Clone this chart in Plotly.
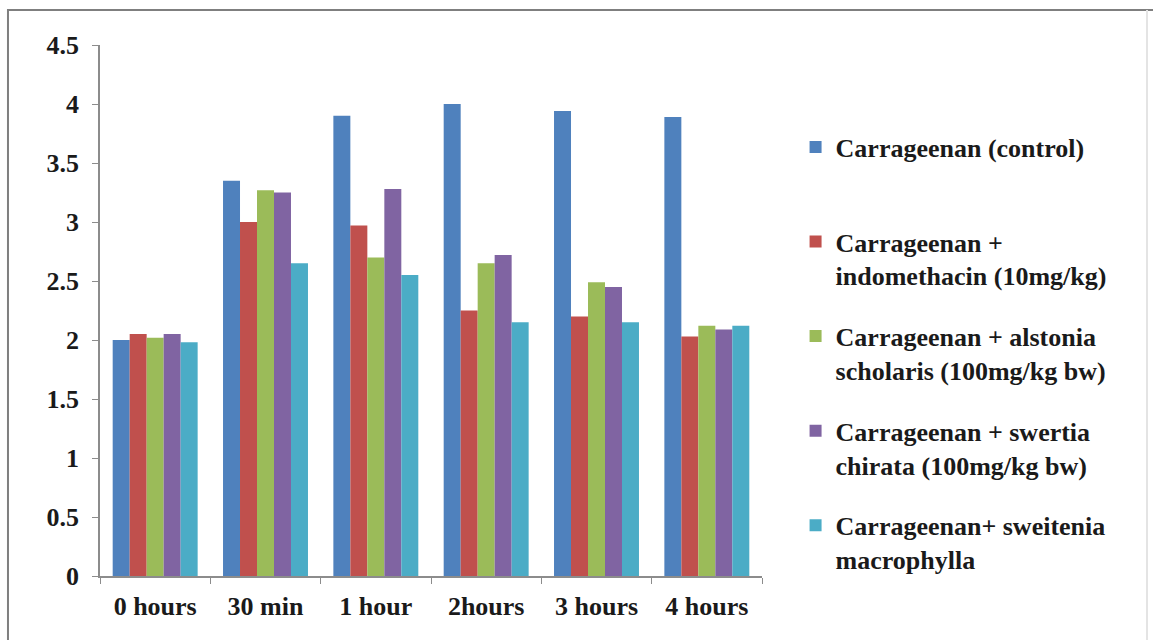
import plotly.graph_objects as go

# Paw oedema measurements per time point for each treatment group
time_points = ["0 hours", "30 min", "1 hour", "2hours", "3 hours", "4 hours"]

control = [2.00, 3.35, 3.90, 4.00, 3.94, 3.89]
indomethacin = [2.05, 3.00, 2.97, 2.25, 2.20, 2.03]
alstonia = [2.02, 3.27, 2.70, 2.65, 2.49, 2.12]
swertia = [2.05, 3.25, 3.28, 2.72, 2.45, 2.09]
sweitenia = [1.98, 2.65, 2.55, 2.15, 2.15, 2.12]

series_names = [
    "Carrageenan (control)<br>&nbsp;",
    "Carrageenan +<br>indomethacin (10mg/kg)",
    "Carrageenan + alstonia<br>scholaris (100mg/kg bw)",
    "Carrageenan + swertia<br>chirata (100mg/kg bw)",
    "Carrageenan+ sweitenia<br>macrophylla",
]
series_values = [control, indomethacin, alstonia, swertia, sweitenia]
series_colors = ["#4F81BD", "#C0504D", "#9BBB59", "#8064A2", "#4BACC6"]

FONT = "Liberation Serif"
TEXT = "#1a1a1a"
SIZE = 26

fig = go.Figure()
for i, (name, vals, col) in enumerate(zip(series_names, series_values, series_colors)):
    fig.add_trace(go.Bar(
        x=time_points, y=vals, name=name,
        marker=dict(color=col, line=dict(width=0)),
        legendgroup=f"g{i}",
    ))

fig.update_layout(
    width=1153, height=640,
    margin=dict(l=100, r=391, t=45, b=64),
    paper_bgcolor="white", plot_bgcolor="white",
    barmode="group", bargap=0.23, bargroupgap=0,
    font=dict(family=FONT, size=SIZE, color=TEXT),
    showlegend=True,
    legend=dict(
        xref="container", yref="container",
        x=0.69, y=0.807, xanchor="left", yanchor="top",
        valign="top", tracegroupgap=24, maxheight=600,
        font=dict(family=FONT, size=SIZE, color=TEXT, weight="bold"),
        bgcolor="rgba(0,0,0,0)",
    ),
    shapes=[
        # outer chart frame: strong top and left edges
        dict(type="path", xref="paper", yref="paper",
             path="M -0.139,-0.2 L -0.139,1.066 L 1.6,1.066",
             line=dict(color="#7f7f7f", width=2), layer="below"),
        # faint right edge
        dict(type="line", xref="paper", yref="paper",
             x0=1.5816, x1=1.5816, y0=-0.2, y1=1.066,
             line=dict(color="#e4e4e4", width=2), layer="below"),
    ],
)

fig.update_xaxes(
    type="category", tickson="boundaries",
    showline=True, linecolor="#8c8c8c", linewidth=1.5,
    ticks="outside", ticklen=6, tickcolor="#8c8c8c",
    ticklabelstandoff=6,
    showgrid=False, zeroline=False,
    tickfont=dict(family=FONT, size=SIZE, color=TEXT, weight="bold"),
)
fig.update_yaxes(
    range=[0, 4.5], dtick=0.5, tick0=0,
    showline=True, linecolor="#8c8c8c", linewidth=1.5,
    ticks="outside", ticklen=6, tickcolor="#8c8c8c",
    ticklabelstandoff=8,
    showgrid=False, zeroline=False,
    tickfont=dict(family=FONT, size=SIZE, color=TEXT, weight="bold"),
)

fig.write_html("out.html")
